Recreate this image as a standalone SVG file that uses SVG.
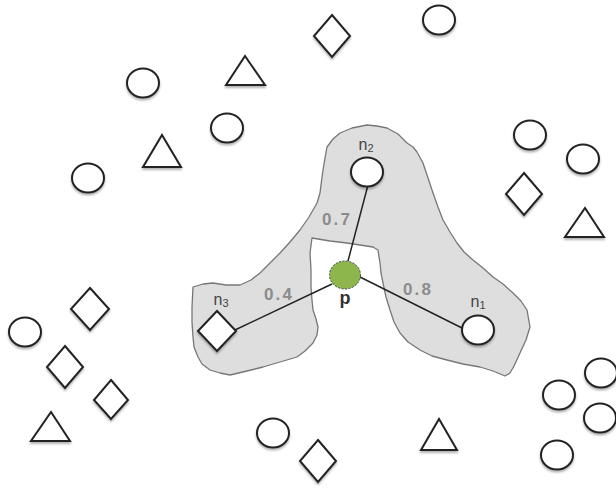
<svg xmlns="http://www.w3.org/2000/svg" width="616" height="489" viewBox="0 0 616 489">
<defs>
<filter id="sh" x="-30%" y="-30%" width="160%" height="170%">
<feDropShadow dx="0" dy="2" stdDeviation="1.2" flood-color="#000" flood-opacity="0.3"/>
</filter>
<style>
.s{fill:#fff;stroke:#222;stroke-width:2;filter:url(#sh)}
.lbl{font-family:"Liberation Sans",Arial,sans-serif;font-size:16px;fill:#444;text-anchor:middle}
.sub{font-size:11px}
.w{font-family:"Liberation Sans",Arial,sans-serif;font-size:17px;font-weight:bold;fill:#8c8c8c;text-anchor:middle;letter-spacing:2.2px}
.c{stroke:#222;stroke-width:1.5;fill:none}
</style>
</defs>
<rect width="616" height="489" fill="#fff"/>
<g id="region">
<path d="M193,287 L203,284 L213,283 L226,285 L240,285 L251,280 L260,273 L270,263 L280,253 L290,242 L300,230 L309,217 L317,203 L320,193 L321,185 L323,170 L325,158 L327,147 L333,139 L340,133 L352,128 L367,125 L377,126 L387,128 L398,134 L407,143 L413,147 L417,152 L423,163 L428,178 L433,193 L438,207 L443,220 L450,232 L457,243 L464,252 L473,260 L483,268 L493,277 L503,284 L513,293 L521,301 L527,310 L530,327 L526,340 L520,353 L514,366 L510,373 L505,376 L493,371 L480,367 L463,364 L447,360 L432,356 L420,350 L408,342 L400,333 L394,322 L390,310 L386,297 L383,283 L381,273 L380,263 L378,250 L373,247 L360,245 L347,243 L330,241 L312,238 L310,253 L311,270 L311,287 L312,300 L313,310 L316,319 L318,327 L317,335 L313,343 L305,351 L297,357 L280,362 L263,367 L247,371 L230,375 L220,373 L210,370 L202,364 L198,357 L194,347 L193,337 L192,322 L192,307 Z" fill="#dedede" stroke="#777" stroke-width="1.3" stroke-linejoin="round"/>
</g>
<g id="connectors">
<line class="c" x1="368" y1="185" x2="348" y2="261"/>
<line class="c" x1="332" y1="284" x2="235" y2="330"/>
<line class="c" x1="360" y1="277" x2="462" y2="328"/>
</g>
<g id="n2"><ellipse class="s" cx="367" cy="172" rx="16" ry="14.5"/><text class="lbl" x="366" y="150">n<tspan class="sub" dy="2">2</tspan></text></g>
<g id="n1"><ellipse class="s" cx="478" cy="330" rx="16" ry="14.5"/><text class="lbl" x="478" y="307">n<tspan class="sub" dy="2">1</tspan></text></g>
<g id="n3"><polygon class="s" points="217,311 236,331 217,351 198,331"/><text class="lbl" x="221" y="305">n<tspan class="sub" dy="2">3</tspan></text></g>
<g id="p"><ellipse cx="345" cy="275" rx="15.5" ry="14" fill="#8db64c" stroke="#445" stroke-width="1" stroke-dasharray="2,1.5"/><text class="lbl" x="345" y="304" style="font-weight:bold;font-size:18px;fill:#333">p</text></g>
<g id="weights">
<text class="w" x="337" y="225">0.7</text>
<text class="w" x="279" y="300">0.4</text>
<text class="w" x="418" y="295">0.8</text>
</g>
<g id="c1"><ellipse class="s" cx="143" cy="83" rx="16" ry="14.5"/></g>
<g id="c2"><ellipse class="s" cx="227" cy="128" rx="16" ry="14.5"/></g>
<g id="c3"><ellipse class="s" cx="88" cy="178" rx="16" ry="14.5"/></g>
<g id="c4"><ellipse class="s" cx="439" cy="20" rx="16" ry="14.5"/></g>
<g id="c5"><ellipse class="s" cx="530" cy="135" rx="16" ry="14.5"/></g>
<g id="c6"><ellipse class="s" cx="583" cy="159" rx="16" ry="14.5"/></g>
<g id="c7"><ellipse class="s" cx="25" cy="332" rx="16" ry="14.5"/></g>
<g id="c8"><ellipse class="s" cx="273" cy="433" rx="16" ry="14.5"/></g>
<g id="c9"><ellipse class="s" cx="559" cy="395" rx="16" ry="14.5"/></g>
<g id="c10"><ellipse class="s" cx="601" cy="373" rx="16" ry="14.5"/></g>
<g id="c11"><ellipse class="s" cx="600" cy="418" rx="16" ry="14.5"/></g>
<g id="c12"><ellipse class="s" cx="557" cy="455" rx="16" ry="14.5"/></g>
<g id="t1"><polygon class="s" points="245,56 265,85 226,85"/></g>
<g id="t2"><polygon class="s" points="162,135 181,167 143,167"/></g>
<g id="t3"><polygon class="s" points="585,208 604,237 565,237"/></g>
<g id="t4"><polygon class="s" points="51,412 70,441 31,441"/></g>
<g id="t5"><polygon class="s" points="439,419 457,450 421,450"/></g>
<g id="d1"><polygon class="s" points="332,15 350,36 332,57 314,36"/></g>
<g id="d2"><polygon class="s" points="524,173 542,194 524,215 506,194"/></g>
<g id="d3"><polygon class="s" points="90,288 109,309 90,330 71,309"/></g>
<g id="d4"><polygon class="s" points="65,346 83,367 65,388 47,367"/></g>
<g id="d5"><polygon class="s" points="111,380 128,400 111,419 94,400"/></g>
<g id="d6"><polygon class="s" points="318,440 336,461 318,482 300,461"/></g>
</svg>
